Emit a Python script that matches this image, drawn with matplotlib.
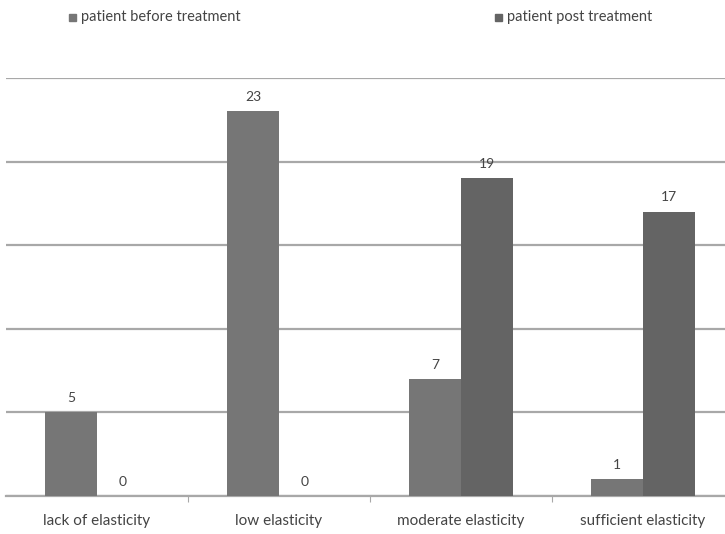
import numpy as np
import matplotlib.pyplot as plt
from matplotlib.patches import Rectangle

plt.rcParams['font.family'] = ['Lato', 'DejaVu Sans']

# elasticity grades and patient counts
categories = ["lack of elasticity", "low elasticity", "moderate elasticity", "sufficient elasticity"]
before = [5, 23, 7, 1]
post = [0, 0, 19, 17]
series_names = ["patient before treatment", "patient post treatment"]

c_before = '#767676'
c_post = '#646464'
grid_c = '#a8a8a8'
text_c = '#444444'

fig = plt.figure(figsize=(7.25, 5.34), dpi=100, facecolor='white')
ax = fig.add_axes([6 / 725, 38 / 534, 1 - 6 / 725, (496 - 78) / 534])

x = np.arange(len(categories))
w = 0.286
b1 = ax.bar(x - w / 2, before, w, color=c_before, zorder=3)
b2 = ax.bar(x + w / 2, post, w, color=c_post, zorder=3)

for bars, vals in ((b1, before), (b2, post)):
    for rect, v in zip(bars, vals):
        ax.annotate(str(v), (rect.get_x() + rect.get_width() / 2, v),
                    xytext=(0, 6), textcoords='offset points',
                    ha='center', va='bottom', fontsize=10, color=text_c)

ax.set_xlim(-0.5, 3.45)
ax.set_ylim(0, 25)
ax.set_yticks([0, 5, 10, 15, 20, 25])
ax.yaxis.grid(True, color=grid_c, linewidth=1.6, zorder=0)
ax.tick_params(axis='y', left=False, labelleft=False)

ax.set_xticks(x)
ax.set_xticklabels(categories, fontsize=11, color=text_c)
ax.tick_params(axis='x', length=0, pad=13)
ax.set_xticks(x[:-1] + 0.5, minor=True)
ax.tick_params(axis='x', which='minor', length=4, color=grid_c, width=0.8)

for s in ('top', 'right', 'left'):
    ax.spines[s].set_visible(False)
ax.spines['bottom'].set_color(grid_c)
ax.spines['bottom'].set_linewidth(1.6)

# legend entries placed along the top
for (lx, name, col) in ((69, series_names[0], c_before), (495, series_names[1], c_post)):
    fig.patches.append(Rectangle((lx / 725, (534 - 21) / 534), 7 / 725, 7 / 534,
                                 transform=fig.transFigure, color=col))
    fig.text((lx + 12) / 725, (534 - 17) / 534, name, fontsize=10.5,
             color=text_c, va='center', ha='left')

fig.savefig('out.png', dpi=100, facecolor='white')
